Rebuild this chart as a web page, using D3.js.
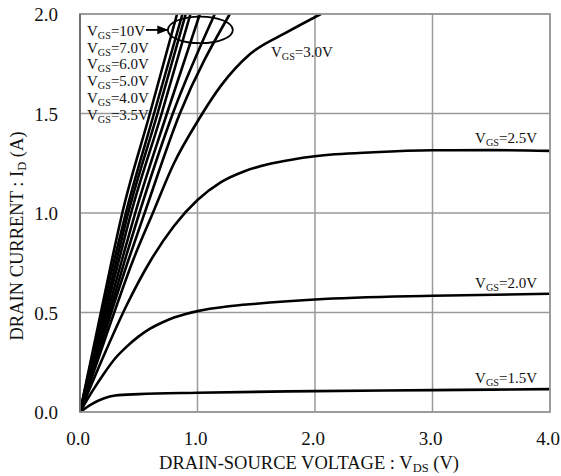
<!DOCTYPE html>
<meta charset="utf-8" />
<style>
  body { margin: 0; background: #fff; }
  svg text { font-family: "Liberation Serif", "Times New Roman", serif; fill: #111; }
  .grid line { stroke: #9a9a9a; stroke-width: 1.5; }
  .curve { fill: none; stroke: #000; stroke-width: 2.6; }
</style>
<svg width="561" height="476"></svg>
<script src="https://cdn.jsdelivr.net/npm/d3@7"></script>
<script>
  // tick values
  var xTicks = [0, 1, 2, 3, 4];
  var yTicks = [0, 0.5, 1.0, 1.5, 2.0];

  // curves: [VDS, ID]
  var vgs10 = [[0, 0], [0.27, 0.76], [0.36, 1.0], [0.595, 1.5], [0.826, 2.0]];
  var vgs7 = [[0, 0], [0.29, 0.76], [0.39, 1.0], [0.63, 1.5], [0.872, 2.0]];
  var vgs6 = [[0, 0], [0.31, 0.76], [0.41, 1.0], [0.66, 1.5], [0.9, 2.0]];
  var vgs5 = [[0, 0], [0.33, 0.76], [0.435, 1.0], [0.695, 1.5], [0.94, 2.0]];
  var vgsX = [[0, 0], [0.355, 0.76], [0.47, 1.0], [0.74, 1.5], [1.02, 2.0]];
  var vgs4 = [[0, 0], [0.38, 0.76], [0.505, 1.0], [0.79, 1.5], [1.147, 2.0]];
  var vgs35 = [[0, 0], [0.41, 0.76], [0.55, 1.0], [0.85, 1.5], [1.275, 2.0]];
  var vgs30 = [[0, 0], [0.25, 0.43], [0.45, 0.76], [0.62, 1.0], [0.8, 1.25], [1.0, 1.46],
    [1.2, 1.64], [1.45, 1.8], [1.75, 1.905], [2.05, 2.0]];
  var vgs25 = [[0, 0], [0.2, 0.28], [0.4, 0.54], [0.6, 0.76], [0.8, 0.935], [1.0, 1.065],
    [1.2, 1.155], [1.4, 1.21], [1.6, 1.245], [1.8, 1.268], [2.0, 1.285], [2.5, 1.305],
    [3.0, 1.315], [3.5, 1.316], [4.0, 1.312]];
  var vgs20 = [[0, 0], [0.1, 0.1], [0.2, 0.19], [0.3, 0.27], [0.4, 0.33], [0.5, 0.38],
    [0.6, 0.42], [0.7, 0.45], [0.8, 0.475], [0.9, 0.493], [1.0, 0.507], [1.25, 0.53],
    [1.5, 0.544], [2.0, 0.565], [3.0, 0.584], [4.0, 0.594]];
  var vgs15 = [[0, 0], [0.1, 0.04], [0.2, 0.068], [0.3, 0.083], [0.5, 0.09], [1.0, 0.097],
    [2.0, 0.105], [3.0, 0.11], [4.0, 0.115]];

  var curves = [vgs10, vgs7, vgs6, vgs5, vgsX, vgs4, vgs35, vgs30, vgs25, vgs20, vgs15];

  // labels in the top-left stack
  var stackLabels = ["10V", "7.0V", "6.0V", "5.0V", "4.0V", "3.5V"];

  var svg = d3.select("svg");
  var margin = { top: 14, right: 11, bottom: 64, left: 80 };
  var width = 561 - margin.left - margin.right,
    height = 476 - margin.top - margin.bottom;

  var x = d3.scaleLinear().domain([0, 4]).range([0, width]);
  var y = d3.scaleLinear().domain([0, 2]).range([height, 0]);

  var g = svg.append("g")
    .attr("transform", "translate(" + margin.left + "," + margin.top + ")");

  var grid = g.append("g").attr("class", "grid");
  grid.selectAll(".gx").data(xTicks).enter().append("line")
    .attr("x1", function(d) { return x(d); })
    .attr("x2", function(d) { return x(d); })
    .attr("y1", 0).attr("y2", height);
  grid.selectAll(".gy").data(yTicks).enter().append("line")
    .attr("y1", function(d) { return y(d); })
    .attr("y2", function(d) { return y(d); })
    .attr("x1", 0).attr("x2", width);

  // tick labels
  g.selectAll(".xt").data(xTicks).enter().append("text")
    .attr("x", function(d) { return x(d) - 2; })
    .attr("y", height + 33)
    .attr("text-anchor", "middle")
    .style("font-size", "19px")
    .text(function(d) { return d.toFixed(1); });
  g.selectAll(".yt").data(yTicks).enter().append("text")
    .attr("x", -22)
    .attr("y", function(d) { return y(d) + 7; })
    .attr("text-anchor", "end")
    .style("font-size", "19px")
    .text(function(d) { return d.toFixed(1); });

  svg.append("clipPath").attr("id", "clip")
    .append("rect").attr("width", width).attr("height", height + 2).attr("y", -1);

  var line = d3.line()
    .x(function(d) { return x(d[0]); })
    .y(function(d) { return y(d[1]); })
    .curve(d3.curveMonotoneX);

  g.append("g").attr("clip-path", "url(#clip)")
    .selectAll("path").data(curves).enter().append("path")
    .attr("class", "curve")
    .attr("d", line);

  // subscripted label helper
  function vLabel(sel, sub, val, fs) {
    sel.append("tspan").text("V");
    sel.append("tspan").attr("dy", 3).style("font-size", (fs * 0.68) + "px").text(sub);
    sel.append("tspan").attr("dy", -3).text(val);
  }

  // stacked labels
  stackLabels.forEach(function(v, i) {
    var t = g.append("text")
      .attr("x", 7)
      .attr("y", 22 + i * 16.7)
      .style("font-size", "15px");
    vLabel(t, "GS", "=" + v, 15);
  });

  // arrow to ellipse
  svg.append("defs").append("marker")
    .attr("id", "arr").attr("viewBox", "0 0 10 10")
    .attr("refX", 10).attr("refY", 5)
    .attr("markerWidth", 6).attr("markerHeight", 6)
    .attr("orient", "auto")
    .append("path").attr("d", "M0,1 L10,5 L0,9 z").attr("fill", "#000");
  g.append("line")
    .attr("x1", 66).attr("y1", y(1.92))
    .attr("x2", x(0.75)).attr("y2", y(1.92))
    .attr("stroke", "#000").attr("stroke-width", 1.8)
    .attr("marker-end", "url(#arr)");
  g.append("ellipse")
    .attr("cx", x(1.024)).attr("cy", y(1.92))
    .attr("rx", 32.5).attr("ry", 13.3)
    .attr("fill", "none").attr("stroke", "#000").attr("stroke-width", 1.8);

  // other curve labels
  var t3 = g.append("text").attr("x", x(1.625)).attr("y", 43).style("font-size", "15px");
  vLabel(t3, "GS", "=3.0V", 15);
  var t25 = g.append("text").attr("x", width - 13).attr("y", y(1.35)).attr("text-anchor", "end").style("font-size", "15px");
  vLabel(t25, "GS", "=2.5V", 15);
  var t20 = g.append("text").attr("x", width - 13).attr("y", y(0.625)).attr("text-anchor", "end").style("font-size", "15px");
  vLabel(t20, "GS", "=2.0V", 15);
  var t15 = g.append("text").attr("x", width - 13).attr("y", y(0.145)).attr("text-anchor", "end").style("font-size", "15px");
  vLabel(t15, "GS", "=1.5V", 15);

  // frame
  g.append("rect").attr("width", width).attr("height", height)
    .attr("fill", "none").attr("stroke", "#9a9a9a").attr("stroke-width", 1.8);
  g.append("line").attr("x1", 0).attr("x2", 0).attr("y1", 0).attr("y2", height)
    .attr("stroke", "#555").attr("stroke-width", 1.2);

  // axis titles
  var xt = svg.append("text")
    .attr("x", margin.left + width / 2 - 6)
    .attr("y", 469)
    .attr("text-anchor", "middle")
    .style("font-size", "18.5px");
  xt.append("tspan").text("DRAIN-SOURCE VOLTAGE : V");
  xt.append("tspan").attr("dy", 3).style("font-size", "12.5px").text("DS");
  xt.append("tspan").attr("dy", -3).text(" (V)");

  var yt = svg.append("text")
    .attr("transform", "translate(23," + 236 + ") rotate(-90)")
    .attr("text-anchor", "middle")
    .style("font-size", "18.5px");
  yt.append("tspan").text("DRAIN CURRENT : I");
  yt.append("tspan").attr("dy", 3).style("font-size", "12.5px").text("D");
  yt.append("tspan").attr("dy", -3).text(" (A)");
</script>
